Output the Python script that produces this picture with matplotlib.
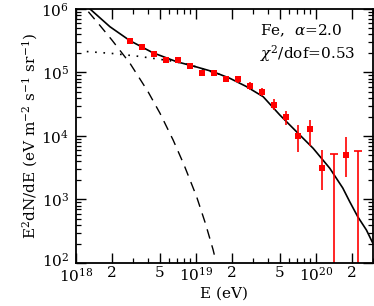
import numpy as np
import matplotlib
matplotlib.use("Agg")
import matplotlib.pyplot as plt
import matplotlib.transforms as mtrans
from matplotlib.ticker import FixedLocator, NullFormatter, FixedFormatter

# ---- data ----
E = [2.818e18, 3.548e18, 4.467e18, 5.623e18, 7.079e18, 8.913e18, 1.122e19,
     1.413e19, 1.778e19, 2.239e19, 2.818e19, 3.548e19, 4.467e19, 5.623e19,
     7.079e19, 8.913e19, 1.122e20, 1.778e20]
flux = [3.13e5, 2.52e5, 1.95e5, 1.59e5, 1.56e5, 1.27e5, 9.9e4, 9.9e4, 7.8e4,
        7.8e4, 6.1e4, 4.93e4, 3.13e4, 2.01e4, 1.0e4, 1.28e4, 3.17e3, 5.02e3]
flux_hi = [3.19e5, 2.57e5, 1.99e5, 1.62e5, 1.60e5, 1.31e5, 1.05e5, 1.05e5, 8.4e4,
           8.71e4, 7.08e4, 5.7e4, 3.79e4, 2.48e4, 1.47e4, 1.79e4, 6.03e3, 9.55e3]
flux_lo = [3.07e5, 2.47e5, 1.91e5, 1.56e5, 1.52e5, 1.23e5, 9.3e4, 9.3e4, 7.08e4,
           6.9e4, 5.3e4, 4.27e4, 2.57e4, 1.47e4, 5.66e3, 6.97e3, 1.40e3, 2.24e3]
# bins whose lower error reaches zero (drawn to the bottom of the plot)
E_ul = [1.413e20, 2.239e20]
flux_ul_top = [5.15e3, 5.8e3]

# model curves (log10 E, log10 E^2 dN/dE)
total_logE = [18.10, 18.117, 18.283, 18.45, 18.64, 18.839, 19.0, 19.142, 19.283,
              19.42, 19.561, 19.70, 19.839, 19.978, 20.117, 20.225, 20.283,
              20.35, 20.422, 20.475]
total_logF = [6.03, 6.0, 5.721, 5.501, 5.312, 5.170, 5.09, 5.013, 4.909,
              4.78, 4.619, 4.331, 4.068, 3.806, 3.491, 3.181, 2.965,
              2.729, 2.520, 2.315]
dotted_logE = [18.09, 18.3, 18.5, 18.64, 18.8, 18.95, 19.1, 19.2]
dotted_logF = [5.33, 5.30, 5.26, 5.224, 5.18, 5.12, 5.03, 4.97]
dashed_logE = [18.103, 18.2, 18.3, 18.45, 18.6, 18.7, 18.81, 18.9, 19.006,
               19.08, 19.144, 19.16]
dashed_logF = [5.957, 5.74, 5.51, 5.145, 4.70, 4.36, 3.937, 3.55, 3.044,
               2.62, 2.205, 2.08]

# ---- figure ----
plt.rcParams['font.family'] = ['DejaVu Serif']
plt.rcParams['mathtext.fontset'] = 'dejavuserif'
FS = 11
fig = plt.figure(figsize=(3.74, 3.06), dpi=100)
ax = fig.add_axes([76/374, 43/306, 297/374, 254/306])

ax.plot(10**np.array(total_logE), 10**np.array(total_logF), color='black', lw=1.2)
ax.plot(10**np.array(dotted_logE), 10**np.array(dotted_logF), color='black', lw=1.2,
        linestyle=(0, (1, 4)))
ax.plot(10**np.array(dashed_logE), 10**np.array(dashed_logF), color='black', lw=1.0,
        linestyle=(0, (7, 5)))

E_a = np.array(E)
f_a = np.array(flux)
yerr = [f_a - np.array(flux_lo), np.array(flux_hi) - f_a]
ax.errorbar(E_a, f_a, yerr=yerr, fmt='s', color='red', ms=4, mew=0,
            elinewidth=1.2, capsize=3, capthick=1.2)
ul_lo = [1.0] * len(E_ul)
ax.errorbar(E_ul, flux_ul_top, yerr=[np.array(flux_ul_top) - np.array(ul_lo), [0]*len(E_ul)],
            fmt='none', ecolor='red', elinewidth=1.2, capsize=3, capthick=1.2)

ax.set_xscale('log')
ax.set_yscale('log')
ax.set_xlim(1e18, 3e20)
ax.set_ylim(1e2, 1e6)

xmaj = [1e18, 2e18, 5e18, 1e19, 2e19, 5e19, 1e20, 2e20]
xlab = [r'$10^{18}$', '2', '5', r'$10^{19}$', '2', '5', r'$10^{20}$', '2']
xmin = [m * 10.0**d for d in (18, 19, 20) for m in (3, 4, 6, 7, 8, 9)]
ax.xaxis.set_major_locator(FixedLocator(xmaj))
ax.xaxis.set_major_formatter(FixedFormatter(xlab))
ax.xaxis.set_minor_locator(FixedLocator(xmin))
ax.xaxis.set_minor_formatter(NullFormatter())

ymaj = [1e2, 1e3, 1e4, 1e5, 1e6]
ylab = [r'$10^{2}$', r'$10^{3}$', r'$10^{4}$', r'$10^{5}$', r'$10^{6}$']
ymin = [m * 10.0**d for d in (2, 3, 4, 5) for m in range(2, 10)]
ax.yaxis.set_major_locator(FixedLocator(ymaj))
ax.yaxis.set_major_formatter(FixedFormatter(ylab))
ax.yaxis.set_minor_locator(FixedLocator(ymin))
ax.yaxis.set_minor_formatter(NullFormatter())

ax.tick_params(which='both', direction='in', top=True, right=True, labelsize=FS)
ax.tick_params(which='major', length=7, width=1.0)
ax.tick_params(axis='x', which='major', pad=2)
ax.tick_params(axis='y', which='major', pad=5)
ax.tick_params(which='minor', length=3.5, width=0.9)
for s in ax.spines.values():
    s.set_linewidth(1.3)

ax.set_xlabel('E (eV)', fontsize=FS, labelpad=1)
ax.set_ylabel(r'E$^2$dN/dE (eV m$^{-2}$ s$^{-1}$ sr$^{-1}$)', fontsize=FS, labelpad=1)

ax.text(0.62, 0.945, r'Fe,  $\alpha$=2.0', transform=ax.transAxes, fontsize=FS,
        ha='left', va='top')
ax.text(0.62, 0.865, r'$\chi^2$/dof=0.53', transform=ax.transAxes, fontsize=FS,
        ha='left', va='top')

# lift the lowest y label and lower the first x label a little so they do not collide
fig.canvas.draw()
ylabels = ax.get_yticklabels()
ylabels[0].set_transform(ylabels[0].get_transform() +
                         mtrans.ScaledTranslation(0, 3/72, fig.dpi_scale_trans))
xlabels = ax.get_xticklabels()
xlabels[0].set_transform(xlabels[0].get_transform() +
                         mtrans.ScaledTranslation(0, -1/72, fig.dpi_scale_trans))

fig.savefig('out.png', dpi=100)
